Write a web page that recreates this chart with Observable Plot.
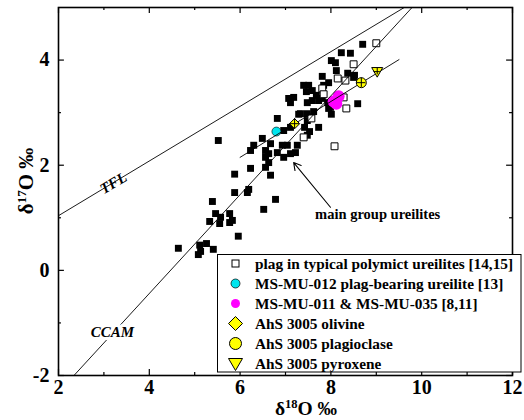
<!DOCTYPE html>
<html><head><meta charset="utf-8">
<script src="https://cdn.jsdelivr.net/npm/d3@7"></script>
<script src="https://cdn.jsdelivr.net/npm/@observablehq/plot@0.6"></script>
<style>
body{margin:0;background:#fff;}
#wrap{position:relative;width:524px;height:420px;overflow:hidden;font-family:"Liberation Serif","Times New Roman",serif;}
#wrap svg{display:block;}
#wrap svg text{font-family:"Liberation Serif","Times New Roman",serif !important;font-weight:bold !important;}
#legend{position:absolute;left:217px;top:254px;}
</style></head><body><div id="wrap"></div>
<script>
// main group ureilites (black squares)
const mainX = [8.70,8.23,8.43,8.01,8.10,8.12,8.37,8.52,7.81,7.95,7.40,7.51,7.46,7.59,7.07,7.18,7.11,7.48,7.59,7.68,7.81,7.93,8.59,7.95,8.01,7.29,7.48,7.62,6.82,7.42,7.48,7.73,6.96,7.11,7.48,7.53,6.49,6.67,6.93,7.04,6.30,6.23,6.56,6.63,6.82,7.26,7.22,7.11,6.56,6.63,6.96,6.56,6.23,5.88,6.67,5.52,6.19,6.16,5.88,5.39,6.78,6.52,5.46,5.57,5.77,5.33,5.55,5.77,5.83,5.96,4.64,5.11,5.26,5.13,5.08,5.41,7.99,7.73,7.33,7.84,8.50];
const mainY = [4.30,4.14,4.13,3.99,3.95,3.80,3.75,3.71,3.69,3.57,3.52,3.52,3.40,3.42,3.27,3.29,3.19,3.19,3.23,3.33,3.27,3.19,3.17,3.08,2.97,2.97,2.98,3.02,2.89,2.72,2.85,2.72,2.66,2.72,2.57,2.64,2.51,2.41,2.38,2.38,2.38,2.28,2.28,2.22,2.24,2.38,2.24,2.22,2.15,2.05,2.15,1.96,1.94,1.83,1.81,2.47,1.54,1.48,1.48,1.31,1.35,1.16,1.08,1.01,1.08,0.93,0.89,0.91,0.95,0.65,0.42,0.48,0.51,0.36,0.30,0.40,3.10,3.23,2.98,3.52,3.67];
// plag in typical polymict ureilites (open squares)
const plagX = [9.00,8.50,8.15,8.32,7.81,7.84,8.28,8.34,7.57,7.40,8.08];
const plagY = [4.32,3.92,3.65,3.61,3.46,3.35,3.29,3.08,2.89,2.53,2.36];
// MS-MU-012
const mu012X = [6.80], mu012Y = [2.64];
// MS-MU-011 & MS-MU-035
const mu011X = [8.06,8.17,8.12], mu011Y = [3.21,3.31,3.17];
// AhS 3005
const ahsPhase = ["olivine","plagioclase","pyroxene"];
const ahsX = [7.20,8.67,9.02];
const ahsY = [2.79,3.57,3.78];
const ahsErrX = [0.11,0.10,0.07];
const ahsErrY = [0.10,0.09,0.06];
// reference lines: slope, intercept
const refNames = ["TFL","CCAM"];
const refSlope = [0.52,0.94];
const refIntercept = [0,-4.2];
// fractionation line through AhS 3005
const mixSlope = 0.531, mixIntercept = -1.036, mixFrom = 6.0, mixTo = 9.5;
// ticks
const xMajor = [2,4,6,8,10,12], xMinor = [3,5,7,9,11];
const yMajor = [-2,0,2,4], yMinor = [-1,1,3];
const legendLabels = ["plag in typical polymict ureilites [14,15]","MS-MU-012 plag-bearing ureilite [13]","MS-MU-011 & MS-MU-035 [8,11]","AhS 3005 olivine","AhS 3005 plagioclase","AhS 3005 pyroxene"];

const main = mainX.map((x,i)=>({x,y:mainY[i]}));
const plag = plagX.map((x,i)=>({x,y:plagY[i]}));
const mu012 = mu012X.map((x,i)=>({x,y:mu012Y[i]}));
const mu011 = mu011X.map((x,i)=>({x,y:mu011Y[i]}));
const ahs = ahsPhase.map((p,i)=>({p,x:ahsX[i],y:ahsY[i],ex:ahsErrX[i],ey:ahsErrY[i]}));
const refPts = refNames.flatMap((n,i)=>[2,12].map(x=>({n,x,y:refSlope[i]*x+refIntercept[i]})));
const mixPts = [mixFrom,mixTo].map(x=>({x,y:mixSlope*x+mixIntercept}));

const triDown = {draw(ctx,size){const r=Math.sqrt(size/Math.PI);ctx.moveTo(-r*1.15,-r*0.85);ctx.lineTo(r*1.15,-r*0.85);ctx.lineTo(0,r*1.15);ctx.closePath();}};

const F = "'Liberation Serif', 'Times New Roman', serif";
const tk = 0.115, tkx = 0.13;
const chart = Plot.plot({
  width:524, height:420, marginLeft:58, marginRight:12, marginTop:7, marginBottom:45,
  x:{domain:[2,12]}, y:{domain:[-2,5]},
  style:{fontFamily:F, background:"white", color:"black"},
  marks:[
    Plot.dot(main,{x:"x",y:"y",symbol:"square",r:3.9,fill:"black"}),
    Plot.dot(plag,{x:"x",y:"y",symbol:"square",r:3.9,fill:"white",stroke:"black",strokeWidth:1}),
    Plot.dot(mu011,{x:"x",y:"y",r:6,fill:"#ff00ff"}),
    Plot.dot(mu012,{x:"x",y:"y",r:4.5,fill:"#00e5ee",stroke:"black",strokeWidth:0.6}),
    Plot.line(refPts,{x:"x",y:"y",z:"n",stroke:"black",strokeWidth:0.9,clip:true}),
    Plot.line(mixPts,{x:"x",y:"y",stroke:"black",strokeWidth:0.9,clip:true}),
    Plot.dot(ahs.filter(d=>d.p==="olivine"),{x:"x",y:"y",symbol:"diamond2",r:4.6,fill:"#ffff00",stroke:"black",strokeWidth:1}),
    Plot.dot(ahs.filter(d=>d.p==="plagioclase"),{x:"x",y:"y",symbol:"circle",r:5,fill:"#ffff00",stroke:"black",strokeWidth:1}),
    Plot.dot(ahs.filter(d=>d.p==="pyroxene"),{x:"x",y:"y",symbol:triDown,r:4.8,fill:"#ffff00",stroke:"black",strokeWidth:1}),
    Plot.ruleY(ahs,{y:"y",x1:d=>d.x-d.ex,x2:d=>d.x+d.ex,stroke:"black",strokeWidth:1}),
    Plot.ruleX(ahs,{x:"x",y1:d=>d.y-d.ey,y2:d=>d.y+d.ey,stroke:"black",strokeWidth:1}),
    Plot.text(["TFL"],{x:3.21,y:1.66,text:d=>d,rotate:-31,fontSize:15,fontWeight:"bold",fontStyle:"italic",fill:"black"}),
    Plot.text(["CCAM"],{x:3.19,y:-1.18,text:d=>d,fontSize:15,fontWeight:"bold",fontStyle:"italic",fill:"black",stroke:"white",strokeWidth:6}),
    Plot.text(["main group ureilites"],{x:9.03,y:1.06,text:d=>d,fontSize:14.5,fontWeight:"bold",fill:"black"}),
    Plot.arrow([{x1:7.99,y1:1.20,x2:7.18,y2:2.05}],{x1:"x1",y1:"y1",x2:"x2",y2:"y2",stroke:"black",strokeWidth:1.1,headLength:11}),
    // inward ticks
    Plot.ruleX(xMajor,{x:d=>d,y1:-2,y2:-2+tk,stroke:"black",strokeWidth:1.2}),
    Plot.ruleX(xMinor,{x:d=>d,y1:-2,y2:-2+tk/2,stroke:"black",strokeWidth:1.2}),
    Plot.ruleX(xMajor,{x:d=>d,y1:5,y2:5-tk,stroke:"black",strokeWidth:1.2}),
    Plot.ruleX(xMinor,{x:d=>d,y1:5,y2:5-tk/2,stroke:"black",strokeWidth:1.2}),
    Plot.ruleY(yMajor,{y:d=>d,x1:2,x2:2+tkx,stroke:"black",strokeWidth:1.2}),
    Plot.ruleY(yMinor,{y:d=>d,x1:2,x2:2+tkx/2,stroke:"black",strokeWidth:1.2}),
    Plot.ruleY(yMajor,{y:d=>d,x1:12,x2:12-tkx,stroke:"black",strokeWidth:1.2}),
    Plot.ruleY(yMinor,{y:d=>d,x1:12,x2:12-tkx/2,stroke:"black",strokeWidth:1.2}),
    Plot.frame({stroke:"black",strokeWidth:1.6}),
    Plot.axisX({ticks:xMajor,tickSize:0,tickPadding:4,fontSize:20,fontWeight:"bold",label:null,tickFormat:d=>String(d)}),
    Plot.axisY({ticks:yMajor,tickSize:0,tickPadding:9,fontSize:20,fontWeight:"bold",label:null,tickFormat:d=>String(d)})
  ]
});
document.getElementById("wrap").appendChild(chart);

// axis titles with superscripts
const svg = d3.select(chart);
const xt = svg.append("text").attr("x",306).attr("y",415).attr("text-anchor","middle")
  .attr("font-size",19.5).attr("fill","black");
xt.append("tspan").text("δ");
xt.append("tspan").attr("font-size",12.5).attr("dy",-7).text("18");
xt.append("tspan").attr("dy",7).text("O ‰");
const yt = svg.append("text").attr("transform","translate(33,181) rotate(-90)").attr("text-anchor","middle")
  .attr("font-size",21).attr("fill","black");
yt.append("tspan").text("δ");
yt.append("tspan").attr("font-size",13).attr("dy",-7).text("17");
yt.append("tspan").attr("dy",7).text("O ‰");

// legend
const lg = d3.select("#wrap").append("svg").attr("id","legend").attr("width",305).attr("height",119);
lg.append("rect").attr("x",0.5).attr("y",0.5).attr("width",303.5).attr("height",117.5).attr("fill","white").attr("stroke","black").attr("stroke-width",1);
const rowY = i => 9.5 + i*20;
const sx = 18.5;
lg.append("rect").attr("x",sx-3.5).attr("y",rowY(0)-3.5).attr("width",7).attr("height",7).attr("fill","white").attr("stroke","black");
lg.append("circle").attr("cx",sx).attr("cy",rowY(1)).attr("r",4.5).attr("fill","#00e5ee").attr("stroke","black").attr("stroke-width",0.7);
lg.append("circle").attr("cx",sx).attr("cy",rowY(2)).attr("r",4.5).attr("fill","#ff00ff");
lg.append("path").attr("d",`M${sx},${rowY(3)-7}L${sx+7},${rowY(3)}L${sx},${rowY(3)+7}L${sx-7},${rowY(3)}Z`).attr("fill","#ffff00").attr("stroke","black");
lg.append("circle").attr("cx",sx).attr("cy",rowY(4)).attr("r",6).attr("fill","#ffff00").attr("stroke","black");
lg.append("path").attr("d",`M${sx-7},${rowY(5)-5}L${sx+7},${rowY(5)-5}L${sx},${rowY(5)+7}Z`).attr("fill","#ffff00").attr("stroke","black");
legendLabels.forEach((t,i)=>{
  lg.append("text").attr("x",38).attr("y",rowY(i)+5.5).attr("font-size",15.3).attr("fill","black").text(t);
});
</script></body></html>
